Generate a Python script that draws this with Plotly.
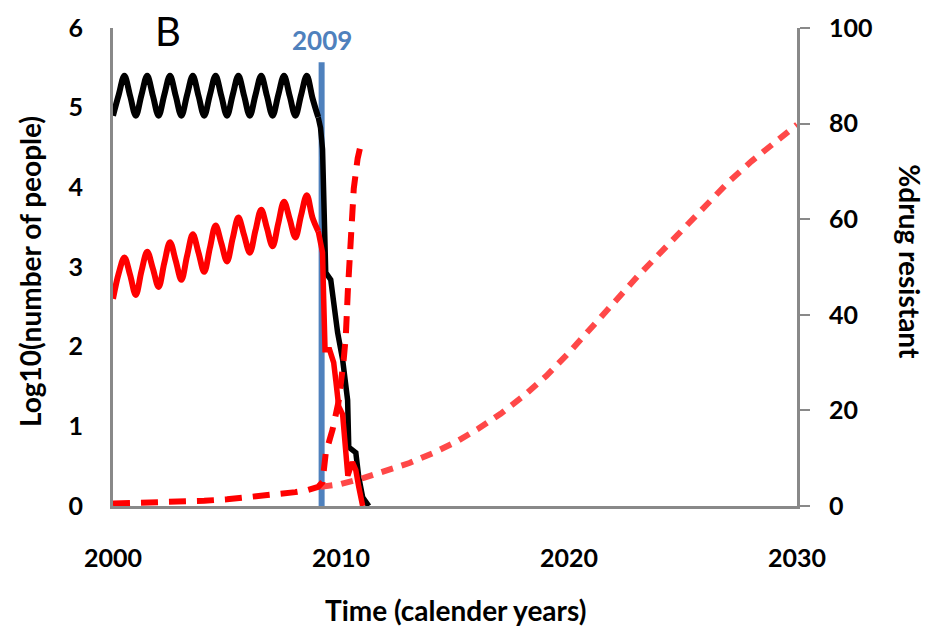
import plotly.graph_objects as go

# ---------------- data ----------------
# seasonal phase (quarterly), 2000 -> 2009, left axis log10(number of people)
osc_years = [2000.00, 2000.25, 2000.50, 2000.75, 2001.00, 2001.25, 2001.50, 2001.75,
             2002.00, 2002.25, 2002.50, 2002.75, 2003.00, 2003.25, 2003.50, 2003.75,
             2004.00, 2004.25, 2004.50, 2004.75, 2005.00, 2005.25, 2005.50, 2005.75,
             2006.00, 2006.25, 2006.50, 2006.75, 2007.00, 2007.25, 2007.50, 2007.75,
             2008.00, 2008.25, 2008.50, 2008.75, 2009.00]
total_osc = [4.90, 5.16, 5.40, 5.15, 4.90, 5.16, 5.40, 5.15,
             4.90, 5.16, 5.40, 5.15, 4.90, 5.16, 5.40, 5.15,
             4.90, 5.16, 5.40, 5.15, 4.90, 5.16, 5.40, 5.15,
             4.90, 5.16, 5.40, 5.15, 4.90, 5.16, 5.40, 5.15,
             4.90, 5.16, 5.40, 5.12, 4.88]
resist_osc = [2.60, 2.92, 3.12, 2.90, 2.65, 2.95, 3.19, 2.98,
              2.75, 3.05, 3.31, 3.08, 2.84, 3.14, 3.41, 3.18,
              2.94, 3.24, 3.52, 3.30, 3.07, 3.36, 3.62, 3.40,
              3.18, 3.46, 3.72, 3.49, 3.26, 3.55, 3.82, 3.60,
              3.37, 3.65, 3.90, 3.62, 3.45]

# collapse after the 2009 intervention
total_drop_years = [2009.00, 2009.10, 2009.19, 2009.24, 2009.33, 2009.55, 2009.68, 2009.85,
                    2010.07, 2010.29, 2010.34, 2010.65, 2010.78, 2010.95, 2011.22]
total_drop = [4.88, 4.75, 4.48, 3.85, 2.93, 2.84, 2.55, 2.18,
              1.84, 1.33, 0.74, 0.67, 0.36, 0.11, 0.00]
resist_drop_years = [2009.00, 2009.19, 2009.24, 2009.30, 2009.50, 2009.68, 2009.77, 2009.90,
                     2010.07, 2010.20, 2010.30, 2010.50, 2010.65, 2010.78, 2010.88, 2010.95]
resist_drop = [3.45, 3.18, 2.60, 1.96, 1.96, 1.80, 1.58, 1.25,
               1.15, 0.80, 0.38, 0.55, 0.45, 0.24, 0.05, 0.00]

# % drug resistant (right axis)
pct_years = [2000, 2001, 2002, 2003, 2004, 2005, 2006, 2007, 2008, 2008.5, 2009.0,
             2009.19, 2009.33, 2009.63, 2009.90, 2010.12, 2010.21, 2010.30, 2010.43,
             2010.51, 2010.56, 2010.73, 2010.91]
pct_resist = [0.5, 0.6, 0.7, 0.9, 1.1, 1.4, 1.8, 2.3, 2.9, 3.3, 4.0,
              5.0, 11.0, 16.0, 22.0, 30.7, 35.5, 45.0, 55.0,
              60.7, 66.4, 72.7, 76.5]

proj_years = [2009.1, 2010, 2011, 2012, 2013, 2014, 2015, 2016, 2017, 2018, 2019, 2020,
              2021, 2022, 2023, 2024, 2025, 2026, 2027, 2028, 2029, 2030]
proj_pct = [4.0, 4.6, 5.9, 7.3, 9.0, 11.0, 13.3, 16.1, 19.3, 23.0, 27.2, 32.1,
            37.2, 42.7, 48.0, 52.9, 58.2, 63.0, 67.8, 72.1, 75.8, 79.8]

# intervention marker
marker_years = [2009.15, 2009.15]
marker_vals = [0, 5.57]
marker_label = "2009"

x_ticks = [2000, 2010, 2020, 2030]
y_ticks = [0, 1, 2, 3, 4, 5, 6]
y2_ticks = [0, 20, 40, 60, 80, 100]

# ---------------- styling ----------------
BLACK = "#000000"
RED = "#FF0000"
PINK = "#FF4848"
BLUE = "#4F81BD"
GREY = "#898989"
FONT = "Lato"

fig = go.Figure()

fig.add_trace(go.Scatter(x=marker_years, y=marker_vals, mode="lines",
                         line=dict(color=BLUE, width=6), showlegend=False))

fig.add_trace(go.Scatter(x=proj_years, y=proj_pct, mode="lines", yaxis="y2",
                         line=dict(color=PINK, width=6, dash="12px,9px"), showlegend=False))
fig.add_trace(go.Scatter(x=pct_years, y=pct_resist, mode="lines", yaxis="y2",
                         line=dict(color=RED, width=6, dash="17px,11px"), showlegend=False))

fig.add_trace(go.Scatter(x=osc_years, y=total_osc, mode="lines",
                         line=dict(color=BLACK, width=6, shape="spline", smoothing=1),
                         showlegend=False))
fig.add_trace(go.Scatter(x=total_drop_years, y=total_drop, mode="lines",
                         line=dict(color=BLACK, width=5.5), showlegend=False))
fig.add_trace(go.Scatter(x=osc_years, y=resist_osc, mode="lines",
                         line=dict(color=RED, width=6, shape="spline", smoothing=1),
                         showlegend=False))
fig.add_trace(go.Scatter(x=resist_drop_years, y=resist_drop, mode="lines",
                         line=dict(color=RED, width=5.5), showlegend=False))

tick_font = dict(family=FONT, size=25, color="#000000", weight="bold")
title_font = dict(family=FONT, size=28, color="#000000", weight="bold")

fig.update_layout(
    width=948, height=632,
    margin=dict(l=113, r=151, t=28, b=126),
    paper_bgcolor="white", plot_bgcolor="white",
    showlegend=False,
    xaxis=dict(range=[2000, 2030], tickvals=x_ticks, ticktext=[str(v) for v in x_ticks],
               showgrid=False, zeroline=False, showline=True, linecolor=GREY, linewidth=3,
               ticks="", tickfont=tick_font, ticklabelstandoff=28),
    yaxis=dict(range=[0, 6], tickvals=y_ticks, showgrid=False, zeroline=False,
               showline=True, linecolor=GREY, linewidth=3, ticks="",
               tickfont=tick_font, ticklabelstandoff=22),
    yaxis2=dict(range=[0, 100], tickvals=y2_ticks, overlaying="y", side="right",
                showgrid=False, zeroline=False, showline=True, linecolor=GREY, linewidth=3,
                ticks="outside", ticklen=10, tickwidth=2, tickcolor=GREY,
                tickfont=tick_font, ticklabelstandoff=14),
    annotations=[
        dict(text="Log10(number of people)", xref="paper", yref="paper",
             x=-0.121, y=0.49, xanchor="center", yanchor="middle", textangle=-90,
             showarrow=False, font=title_font),
        dict(text="%drug resistant", xref="paper", yref="paper",
             x=1.165, y=0.51, xanchor="center", yanchor="middle", textangle=90,
             showarrow=False, font=title_font),
        dict(text="Time (calender years)", xref="paper", yref="paper",
             x=0.5, y=-0.2176, xanchor="center", yanchor="middle",
             showarrow=False, font=title_font),
        dict(text="B", xref="paper", yref="paper",
             x=(168 - 113) / 684, y=(506 - 31) / 478, xanchor="center", yanchor="middle",
             showarrow=False, font=dict(family=FONT, size=40, color="#000000")),
        dict(text=marker_label, xref="x", yref="paper",
             x=marker_years[0], y=(506 - 40) / 478, xanchor="center", yanchor="middle",
             showarrow=False, font=dict(family=FONT, size=26, color=BLUE, weight="bold")),
    ],
)

fig.write_html("out.html")
